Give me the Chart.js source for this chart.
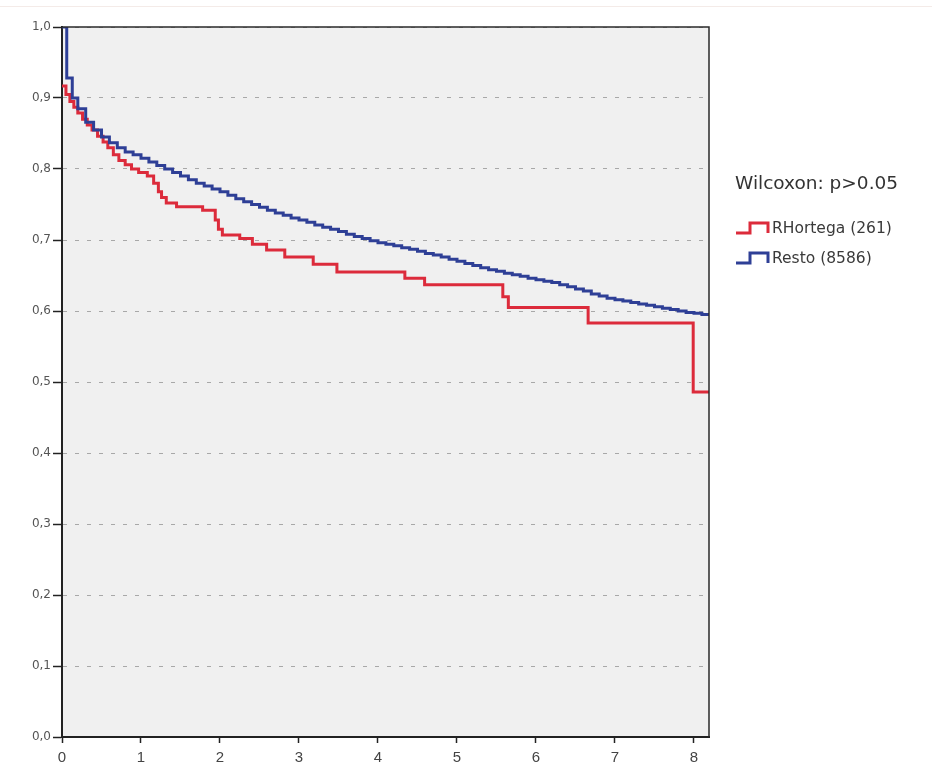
<!DOCTYPE html>
<html>
<head>
<meta charset="utf-8">
<script src="https://cdn.jsdelivr.net/npm/chart.js@4/dist/chart.umd.min.js"></script>
<style>
html, body { margin: 0; padding: 0; background: #ffffff; }
#wrap { position: relative; width: 932px; height: 771px; overflow: hidden; }
#topline { position: absolute; left: 0; top: 6px; width: 932px; height: 1px; background: #f4ebe8; }
#chart { position: absolute; left: 0; top: 0; }
#legend { position: absolute; left: 735px; top: 171px; font-family: "DejaVu Sans", sans-serif; color: #333; }
#legend .title { font-size: 18.5px; line-height: 24px; margin-bottom: 18px; }
#legend .item { display: flex; align-items: center; height: 30px; font-size: 15.5px; color: #3a3a3a; }
#legend svg { display: block; margin-right: 1px; }
</style>
</head>
<body>
<div id="wrap">
  <div id="topline"></div>
  <canvas id="chart" width="932" height="771"></canvas>
  <div id="legend"></div>
</div>
<script>
// ---- Data ----
const seriesNames = ['RHortega (261)', 'Resto (8586)'];
const seriesColors = ['#dc2b3b', '#2e3f96'];
const legendTitle = 'Wilcoxon: p>0.05';

// Kaplan-Meier steps: at each time the survival drops to the listed value
const redTimes = [0, 0.05, 0.10, 0.15, 0.20, 0.26, 0.32, 0.38, 0.45, 0.52, 0.58, 0.65, 0.72, 0.80, 0.88, 0.97, 1.08, 1.16, 1.22, 1.26, 1.32, 1.45, 1.78, 1.94, 1.98, 2.03, 2.25, 2.41, 2.59, 2.82, 3.18, 3.48, 4.34, 4.59, 5.58, 5.65, 6.66, 7.99, 8.19];
const redSurv  = [0.917, 0.905, 0.895, 0.887, 0.879, 0.870, 0.862, 0.855, 0.846, 0.838, 0.830, 0.820, 0.812, 0.806, 0.800, 0.795, 0.790, 0.780, 0.768, 0.760, 0.752, 0.747, 0.742, 0.728, 0.715, 0.707, 0.702, 0.694, 0.686, 0.676, 0.666, 0.655, 0.646, 0.637, 0.620, 0.605, 0.583, 0.486, 0.486];

const blueTimes = [0, 0.06, 0.13, 0.20, 0.30, 0.40, 0.50, 0.60, 0.70, 0.80, 0.90, 1.00, 1.10, 1.20, 1.30, 1.40, 1.50, 1.60, 1.70, 1.80, 1.90,
  2.0, 2.1, 2.2, 2.3, 2.4, 2.5, 2.6, 2.7, 2.8, 2.9, 3.0, 3.1, 3.2, 3.3, 3.4, 3.5, 3.6, 3.7, 3.8, 3.9,
  4.0, 4.1, 4.2, 4.3, 4.4, 4.5, 4.6, 4.7, 4.8, 4.9, 5.0, 5.1, 5.2, 5.3, 5.4, 5.5, 5.6, 5.7, 5.8, 5.9,
  6.0, 6.1, 6.2, 6.3, 6.4, 6.5, 6.6, 6.7, 6.8, 6.9, 7.0, 7.1, 7.2, 7.3, 7.4, 7.5, 7.6, 7.7, 7.8, 7.9, 8.0, 8.1, 8.19];
const blueSurv  = [1.000, 0.928, 0.900, 0.885, 0.866, 0.855, 0.845, 0.837, 0.830, 0.824, 0.820, 0.815, 0.810, 0.805, 0.800, 0.795, 0.790, 0.785, 0.780, 0.776, 0.772,
  0.768, 0.763, 0.758, 0.754, 0.750, 0.746, 0.742, 0.738, 0.735, 0.731, 0.728, 0.725, 0.721, 0.718, 0.715, 0.712, 0.708, 0.705, 0.702, 0.699,
  0.696, 0.694, 0.692, 0.689, 0.687, 0.684, 0.681, 0.679, 0.676, 0.673, 0.670, 0.667, 0.664, 0.661, 0.658, 0.656, 0.653, 0.651, 0.649, 0.646,
  0.644, 0.642, 0.640, 0.637, 0.634, 0.631, 0.628, 0.624, 0.621, 0.618, 0.616, 0.614, 0.612, 0.610, 0.608, 0.606, 0.604, 0.602, 0.600, 0.598, 0.597, 0.595, 0.594];

const xTickValues = [0, 1, 2, 3, 4, 5, 6, 7, 8];
const yTickValues = [0, 0.1, 0.2, 0.3, 0.4, 0.5, 0.6, 0.7, 0.8, 0.9, 1.0];
const yTickLabels = ['0,0', '0,1', '0,2', '0,3', '0,4', '0,5', '0,6', '0,7', '0,8', '0,9', '1,0'];

// ---- Build chart ----
const toPoints = (xs, ys) => xs.map((x, i) => ({ x: x, y: ys[i] }));

const plotFrame = {
  id: 'plotFrame',
  beforeDraw(chart) {
    const a = chart.chartArea, ctx = chart.ctx;
    ctx.save();
    ctx.fillStyle = '#f0f0f0';
    ctx.fillRect(a.left, a.top, a.right - a.left, a.bottom - a.top);
    ctx.restore();
  },
  afterDraw(chart) {
    const a = chart.chartArea, ctx = chart.ctx;
    ctx.save();
    ctx.strokeStyle = '#2a2a2a';
    ctx.lineWidth = 1.5;
    ctx.beginPath();
    ctx.moveTo(a.left, a.top);
    ctx.lineTo(a.right, a.top);
    ctx.lineTo(a.right, a.bottom);
    ctx.stroke();
    ctx.restore();
  }
};

new Chart(document.getElementById('chart'), {
  type: 'line',
  data: {
    datasets: [
      { label: seriesNames[0], data: toPoints(redTimes, redSurv), borderColor: seriesColors[0], borderWidth: 3, stepped: 'before', pointRadius: 0, fill: false, order: 1 },
      { label: seriesNames[1], data: toPoints(blueTimes, blueSurv), borderColor: seriesColors[1], borderWidth: 3, stepped: 'before', pointRadius: 0, fill: false, order: 0 }
    ]
  },
  options: {
    responsive: false,
    animation: false,
    layout: { padding: { top: 27, right: 223, bottom: 0, left: 0 } },
    plugins: { legend: { display: false }, tooltip: { enabled: false } },
    scales: {
      x: {
        type: 'linear',
        min: 0,
        max: 8.19,
        afterBuildTicks: s => { s.ticks = xTickValues.map(v => ({ value: v })); },
        afterFit: s => { s.height = 34; },
        ticks: { color: '#444', font: { size: 15, family: 'Liberation Sans' }, padding: 6 },
        grid: { drawOnChartArea: false, drawTicks: true, tickLength: 6, tickColor: '#222', tickWidth: 1.5 },
        border: { display: true, color: '#222', width: 2 }
      },
      y: {
        type: 'linear',
        min: 0,
        max: 1,
        afterBuildTicks: s => { s.ticks = yTickValues.map(v => ({ value: v })); },
        afterFit: s => { s.width = 62; },
        ticks: { color: '#555', font: { size: 12, family: 'DejaVu Sans' }, padding: 2,
                 callback: (v, i) => yTickLabels[i] },
        grid: { color: '#a8a8a8', lineWidth: 1, drawTicks: true, tickLength: 9, tickColor: '#222', tickWidth: 1.5, tickBorderDash: [] },
        border: { display: true, color: '#222', width: 2, dash: [4, 8] }
      }
    }
  },
  plugins: [plotFrame]
});

// ---- HTML legend ----
const legend = document.getElementById('legend');
const t = document.createElement('div');
t.className = 'title';
t.textContent = legendTitle;
legend.appendChild(t);
seriesNames.forEach((name, i) => {
  const item = document.createElement('div');
  item.className = 'item';
  item.innerHTML = '<svg width="36" height="14" viewBox="0 0 36 14"><polyline points="1,12 15,12 15,2 33,2 33,12" fill="none" stroke="' + seriesColors[i] + '" stroke-width="3"/></svg>';
  const span = document.createElement('span');
  span.textContent = name;
  item.appendChild(span);
  legend.appendChild(item);
});
</script>
</body>
</html>
